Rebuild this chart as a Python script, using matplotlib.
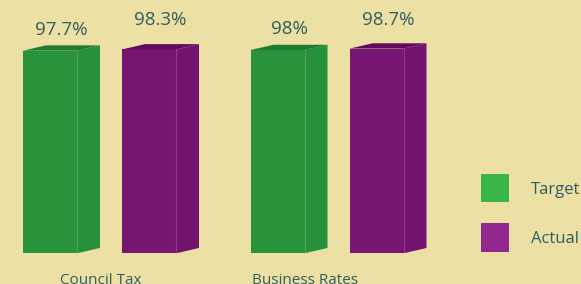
import matplotlib
matplotlib.use("Agg")
import matplotlib.pyplot as plt
from matplotlib.patches import Polygon, Patch

plt.rcParams['font.family'] = ['Open Sans', 'DejaVu Sans']

# data
categories = ['Council Tax', 'Business Rates']
series = ['Target', 'Actual']
target = [97.7, 98.0]
actual = [98.3, 98.7]
value_labels = [['97.7%', '98%'], ['98.3%', '98.7%']]

bg = '#ece0a5'
text_col = '#2e5e5e'
front_cols = ['#28933a', '#771573']
side_cols = ['#27903a', '#731370']
top_cols = ['#1e7c2e', '#5f0a5a']
legend_cols = ['#3ab54a', '#92278f']

fig = plt.figure(figsize=(5.81, 2.84), dpi=100)
fig.patch.set_facecolor(bg)
ax = fig.add_axes([0, 0, 1, 1])
ax.set_facecolor(bg)
ax.axis('off')

# pixel based layout: one category = 227.5 px, 1 value unit = 2.074 px
gpx = 227.5
vpx = 2.074
ax.set_xlim(-111.5 / gpx, (581 - 111.5) / gpx)
ax.set_ylim(-(284 - 253.3) / vpx, 253.3 / vpx)

w = 54 / gpx
dx = 23 / gpx
dy = 5.3 / vpx
offsets = [-88.5 / gpx, 10.5 / gpx]
label_gap = [7.5, 13.5]  # points above bar back edge

for s, vals in enumerate([target, actual]):
    for i, v in enumerate(vals):
        x0 = i + offsets[s]
        ax.bar(x0, v, width=w, align='edge', color=front_cols[s], linewidth=0)
        side = Polygon([(x0 + w, 0), (x0 + w + dx, dy), (x0 + w + dx, v + dy), (x0 + w, v)],
                       closed=True, facecolor=side_cols[s], edgecolor='none')
        ax.add_patch(side)
        ax.plot([x0 + w, x0 + w], [0, v], color='#ffffff', alpha=0.18, lw=0.8)
        top = Polygon([(x0, v), (x0 + w, v), (x0 + w + dx, v + dy), (x0 + dx, v + dy)],
                      closed=True, facecolor=top_cols[s], edgecolor='none')
        ax.add_patch(top)
        ax.annotate(value_labels[s][i], (x0 + (w + dx) / 2, v + dy),
                    xytext=(0, label_gap[s]), textcoords='offset points',
                    ha='center', va='baseline', fontsize=13.5, color=text_col)

# category labels (sit at the bottom edge, partly cut off)
label_shift = [-11, -34]
for i, c in enumerate(categories):
    ax.annotate(c, (i, 0), xytext=(label_shift[i] * 0.72, -31 * 0.72),
                textcoords='offset points', ha='center', va='baseline',
                fontsize=11, color=text_col, annotation_clip=False)

handles = [Patch(facecolor=legend_cols[k], edgecolor='none') for k in range(2)]
leg = fig.legend(handles, series, loc='upper left',
                 bbox_to_anchor=(481 / 581, 1 - 174.3 / 284),
                 frameon=False, fontsize=12, handlelength=1.68, handleheight=2.21,
                 handletextpad=1.3, labelspacing=1.27, borderpad=0, borderaxespad=0)
for t in leg.get_texts():
    t.set_color(text_col)

fig.savefig('out.png', dpi=100, facecolor=bg)
